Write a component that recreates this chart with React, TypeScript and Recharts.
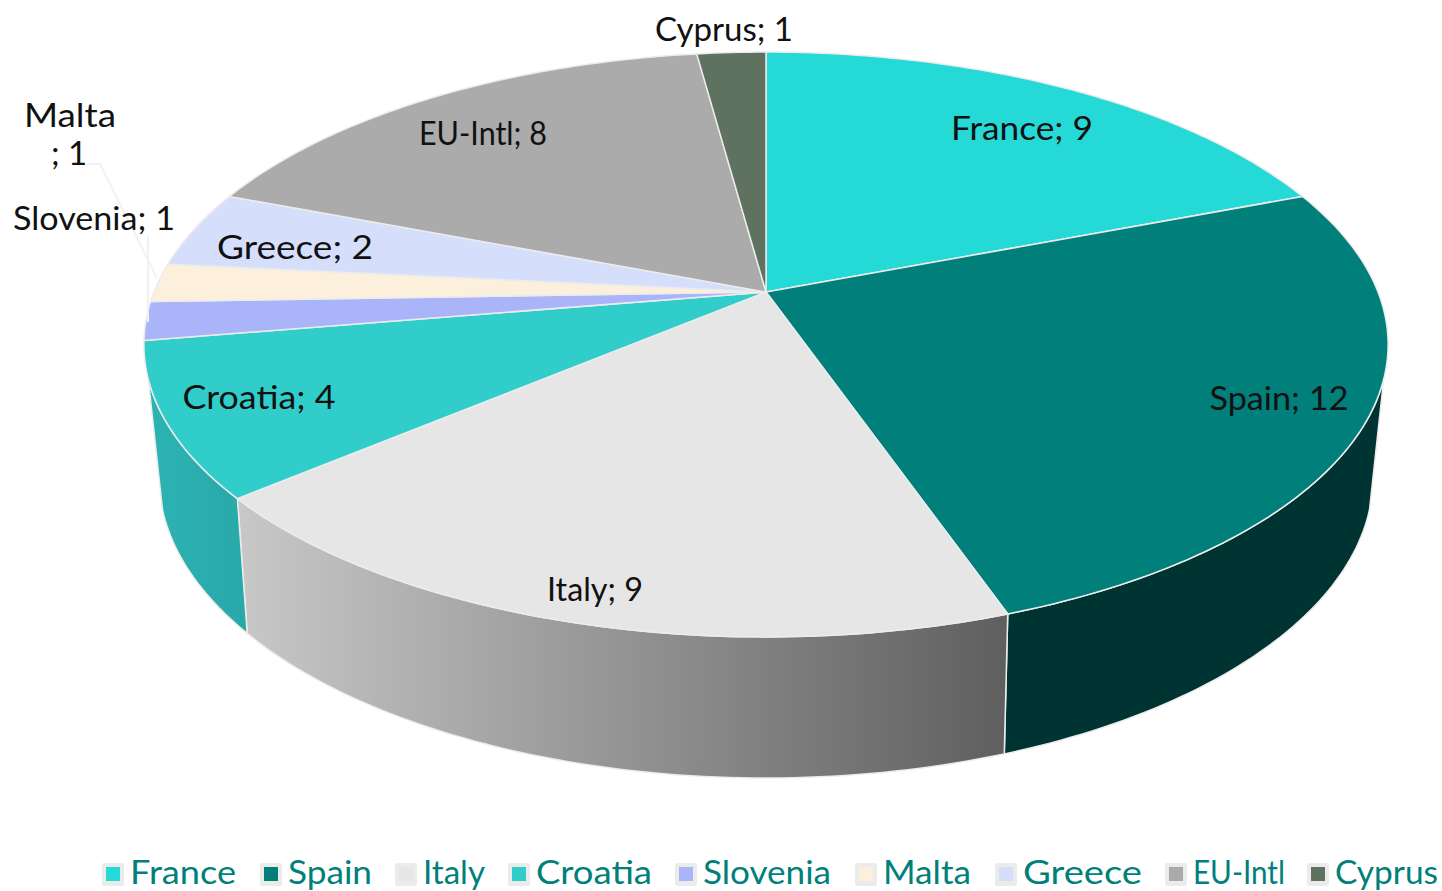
import React from 'react';
import { Legend, Pie, PieChart } from 'recharts';

const countries = ['France', 'Spain', 'Italy', 'Croatia', 'Slovenia', 'Malta', 'Greece', 'EU-Intl', 'Cyprus'];
const counts = [9, 12, 9, 4, 1, 1, 2, 8, 1];
const colors = ['#25d9d6', '#007f7b', '#e6e6e6', '#30cdcb', '#aab4f9', '#fcf0dc', '#d5dffb', '#ababab', '#5f725f'];

const data = countries.map((name, i) => ({ name, value: counts[i], fill: colors[i] }));

// side wall fills, only the three front slices show one
const wallFills: Record<string, string> = {
  Spain: '#003432',
  Italy: 'url(#wallItaly)',
  Croatia: 'url(#wallCroatia)',
};

// label anchors: text centre x, baseline y, text width
const labelSpots: Record<string, [number, number, number]> = {
  France: [1022, 140, 142],
  Spain: [1279, 410, 139],
  Italy: [595, 601, 96],
  Croatia: [259, 409, 153],
  Slovenia: [94, 230, 162],
  Malta: [70, 127, 92],
  Greece: [295, 259, 156],
  'EU-Intl': [483, 145, 128],
  Cyprus: [724, 41, 138],
};
const leaders = ['87,164 100,164 157,278', '148,237 148,322'];
const legendMarkX = [102, 260, 395, 508, 675, 855, 995, 1165, 1307];
const legendTextW = [106, 84, 62, 116, 128, 88, 119, 92, 103];

const FONT = 'Lato, sans-serif';

// perspective of the tilted disc, top rim and bottom rim
const CX = 766;
const CY = 292;
const R = 612;
const top = { k: 0.1795, a: R, c: 283, y0: CY };
const low = { k: 0.19, a: 596, c: 290, y0: 420 };
const WALL_FROM = 107;
const WALL_TO = 253;

type Rim = typeof top;

function rimPoints(rim: Rim, cx: number, from: number, to: number) {
  const n = Math.max(2, Math.ceil(Math.abs(to - from)));
  const pts: string[] = [];
  for (let i = 0; i <= n; i++) {
    const t = ((from + ((to - from) * i) / n) * Math.PI) / 180;
    const u = Math.sin(t);
    const v = Math.cos(t);
    const d = 1 + rim.k * v;
    pts.push(`${(cx + (rim.a * u) / d).toFixed(2)},${(rim.y0 - (rim.c * v) / d).toFixed(2)}`);
  }
  return pts;
}

function DiscSlice(props: any) {
  const { cx, startAngle, endAngle, fill, name } = props;
  const from = 90 - startAngle;
  const to = 90 - endAngle;
  const topArc = rimPoints(top, cx, from, to);
  const wallA = Math.max(from, WALL_FROM);
  const wallB = Math.min(to, WALL_TO);
  const wall =
    wallB > wallA
      ? [...rimPoints(top, cx, wallA, wallB), ...rimPoints(low, cx, wallB, wallA)].join(' L')
      : null;
  return (
    <g>
      {wall && <path d={`M${wall}Z`} fill={wallFills[name]} stroke="#ececec" strokeWidth={1.5} strokeLinejoin="round" />}
      <path d={`M${cx},${top.y0} L${topArc.join(' L')}Z`} fill={fill} stroke="#ececec" strokeWidth={1.5} strokeLinejoin="round" />
    </g>
  );
}

function SliceLabel(props: any) {
  const { name, value, index } = props;
  const [x, y, w] = labelSpots[name];
  const shared = { textAnchor: 'middle' as const, fontFamily: FONT, fontSize: 33, fill: '#111' };
  return (
    <g>
      {/* leader lines go with the first label so all text sits above them */}
      {index === 0 &&
        leaders.map((pts) => <polyline key={pts} points={pts} fill="none" stroke="#f1f1f1" strokeWidth={2} />)}
      {name === 'Malta' ? (
        <>
          <text x={x} y={y} textLength={w} lengthAdjust="spacingAndGlyphs" {...shared}>{name}</text>
          <text x={x - 1} y={y + 38} {...shared}>; {value}</text>
        </>
      ) : (
        <text x={x} y={y} textLength={w} lengthAdjust="spacingAndGlyphs" {...shared}>{name}; {value}</text>
      )}
    </g>
  );
}

function LegendRow({ payload }: any) {
  return (
    <svg width={1442} height={41} style={{ display: 'block' }}>
      {(payload || []).map((entry: any, i: number) => (
        <g key={entry.value}>
          <rect x={legendMarkX[i]} y={13} width={22} height={23} rx={2} fill="#ebebeb" />
          <rect x={legendMarkX[i] + 4} y={17} width={14} height={14} fill={entry.color} />
          <text
            x={legendMarkX[i] + 28}
            y={33.5}
            textLength={legendTextW[i]}
            lengthAdjust="spacingAndGlyphs"
            fontFamily={FONT}
            fontSize={32}
            fill="#007f7b"
          >
            {entry.value}
          </text>
        </g>
      ))}
    </svg>
  );
}

export default function App() {
  return (
    <div style={{ position: 'absolute', left: 0, top: 0, width: 1442, height: 891, overflow: 'hidden', background: '#fff' }}>
      <PieChart width={1442} height={891} margin={{ top: 0, right: 0, bottom: 0, left: 0 }}>
        <defs>
          <linearGradient id="wallItaly" x1="0" y1="0" x2="1" y2="0">
            <stop offset="0%" stopColor="#c8c8c8" />
            <stop offset="100%" stopColor="#5f5f5f" />
          </linearGradient>
          <linearGradient id="wallCroatia" x1="0" y1="0" x2="1" y2="0">
            <stop offset="0%" stopColor="#2db3b3" />
            <stop offset="100%" stopColor="#29a8a8" />
          </linearGradient>
        </defs>
        <Pie
          data={data}
          dataKey="value"
          nameKey="name"
          cx={CX}
          cy={CY}
          outerRadius={R}
          startAngle={90}
          endAngle={-270}
          shape={DiscSlice}
          label={SliceLabel}
          labelLine={false}
          isAnimationActive={false}
        />
        <Legend content={LegendRow} itemSorter={null} wrapperStyle={{ left: 0, top: 850, width: 1442, height: 41 }} />
      </PieChart>
    </div>
  );
}
